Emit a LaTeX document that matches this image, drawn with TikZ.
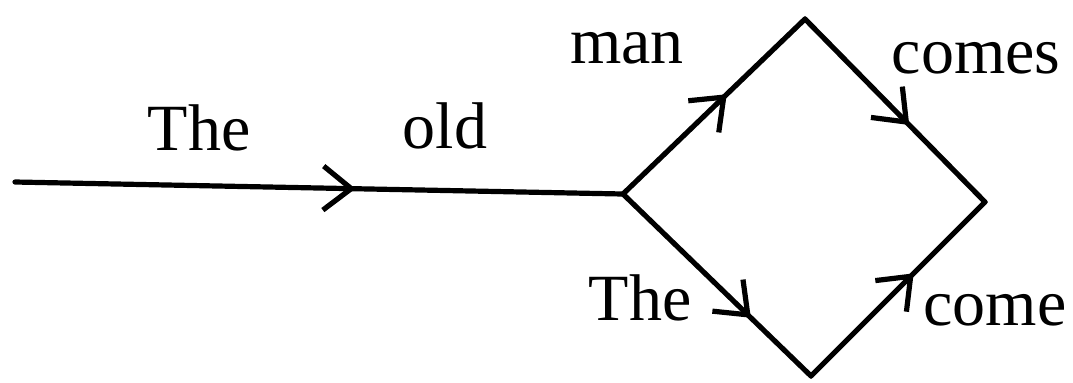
\documentclass[tikz,border=0pt]{standalone}
\usepackage{fontspec}
\setmainfont{Liberation Serif}
\usetikzlibrary{arrows.meta,decorations.markings}
\tikzset{
  edge/.style={line width=2.6pt, line cap=round, line join=miter},
  midarrow/.style={postaction={decorate}, decoration={markings,
    mark=at position #1 with {\arrow{Straight Barb[length=14pt,width=22pt,line width=2.6pt]}}}},
  word/.style={font=\fontsize{33}{38}\selectfont, inner sep=0pt}
}
\begin{document}
\begin{tikzpicture}[x=0.5pt,y=-0.5pt]
\useasboundingbox (0,0) rectangle (1073,382);
\coordinate (start) at (15,182);
\coordinate (L) at (623,194);
\coordinate (T) at (805,19);
\coordinate (R) at (985,202);
\coordinate (B) at (811,376);
\draw[edge, midarrow=0.56] (start) -- (L);
\draw[edge, midarrow=0.57] (L) -- (T);
\draw[edge, midarrow=0.58] (T) -- (R);
\draw[edge, midarrow=0.68] (L) -- (B);
\draw[edge, midarrow=0.59] (B) -- (R);
\node[word] (w1) at (199,128) {The};
\node[word] (w2) at (445,126) {old};
\node[word] (w3) at (627,48) {man};
\node[word] (w4) at (976,58) {comes};
\node[word] (w5) at (640,298) {The};
\node[word] (w6) at (995,310) {come};
\end{tikzpicture}
\end{document}
